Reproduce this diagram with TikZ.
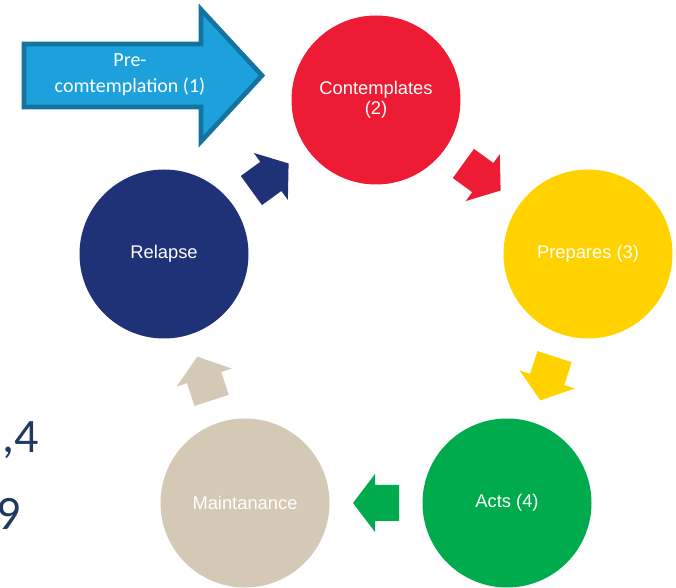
\documentclass[tikz,border=0pt]{standalone}
\usepackage{fontspec}
\setmainfont{Liberation Sans}
\newfontfamily\calibfont{Carlito}
\usetikzlibrary{calc}

% palette
\definecolor{cArrowFill}{RGB}{28,161,220}
\definecolor{cArrowLine}{RGB}{20,116,160}
\definecolor{cRed}{RGB}{237,28,52}
\definecolor{cYellow}{RGB}{255,210,0}
\definecolor{cGreen}{RGB}{0,171,78}
\definecolor{cBeige}{RGB}{212,201,180}
\definecolor{cNavy}{RGB}{31,50,120}
\definecolor{cTextNavy}{RGB}{31,56,100}

\tikzset{
  stage/.style={circle, minimum size=126.75pt, inner sep=0pt, text=white,
    font=\fontsize{13.75}{15}\selectfont, align=center},
  % short block arrow, centred on its origin, pointing along +x
  blockarrow/.pic={\fill[#1] (-23,-18) -- (1,-18) -- (1,-29) -- (23,0)
      -- (1,29) -- (1,18) -- (-23,18) -- cycle;},
  bigtext/.style={anchor=base east, inner sep=0pt, text=cTextNavy,
    font=\calibfont\fontsize{36}{36}\selectfont}
}

\begin{document}
\begin{tikzpicture}[x=0.75pt, y=-0.75pt]
\useasboundingbox (0,0) rectangle (676,588);
\clip (0,0) rectangle (676,588);

% entry arrow
\draw[line width=3.5pt, draw=cArrowLine, fill=cArrowFill, miter limit=10]
  (24,44) -- (201,44) -- (201,9.5) -- (262,75.5) -- (201,141.5)
  -- (201,107) -- (24,107) -- cycle;
\node[text=white, align=center, font=\calibfont\fontsize{15}{19.5}\selectfont]
  (pre) at (130,75) {Pre-\\comtemplation (1)};

% stages of the cycle
\node[stage, fill=cRed]    (contemp) at (376,100) {Contemplates\\(2)};
\node[stage, fill=cYellow] (prep)    at (588,254) {Prepares (3)};
\node[stage, fill=cGreen]  (acts)    at (507,503) {Acts (4)};
\node[stage, fill=cBeige]  (maint)   at (245,503) {Maintanance};
\node[stage, fill=cNavy]   (relapse) at (164,254) {Relapse};

% arrows between stages
\pic[rotate=-36]  at ($(contemp)!0.5!(prep)$)   {blockarrow=cRed};
\pic[rotate=-108] at ($(prep)!0.5!(acts)$)      {blockarrow=cYellow};
\pic[rotate=180]  at ($(acts)!0.5!(maint)$)     {blockarrow=cGreen};
\pic[rotate=108]  at ($(maint)!0.5!(relapse)$)  {blockarrow=cBeige};
\pic[rotate=36]   at ($(relapse)!0.5!(contemp)$) {blockarrow=cNavy};

% text running in from the left edge
\node[bigtext] (frag4) at (39,453) {,4};
\node[bigtext] (frag9) at (21,529) {9};
\end{tikzpicture}
\end{document}
